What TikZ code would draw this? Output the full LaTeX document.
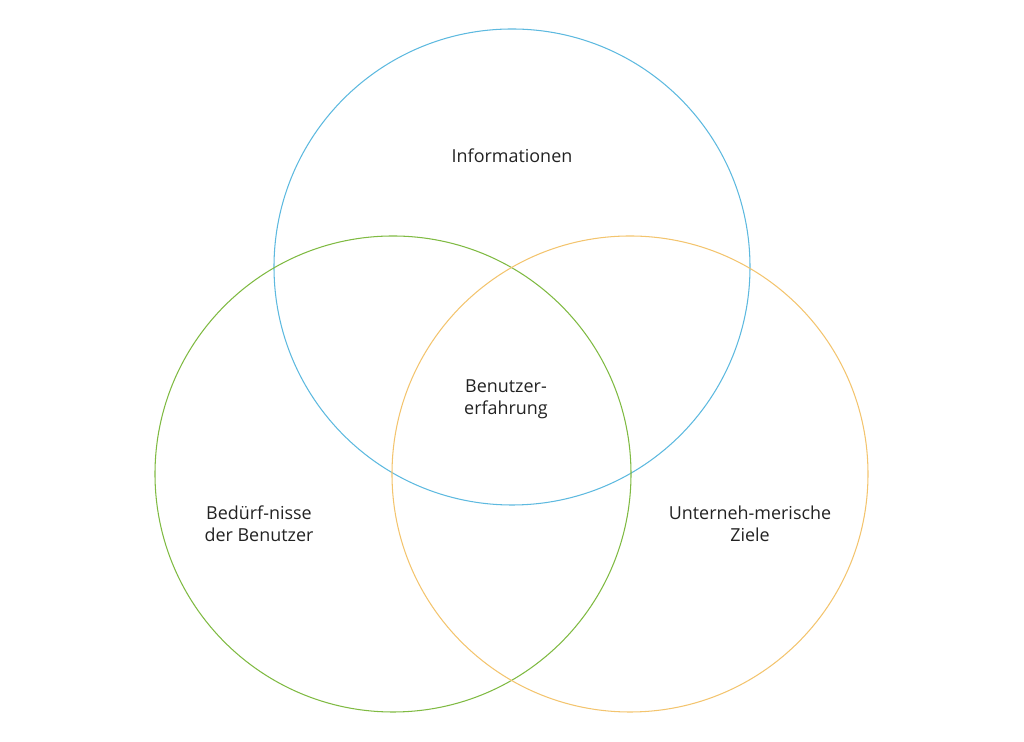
\documentclass[tikz,border=0pt]{standalone}
\usepackage{fontspec}
\setmainfont{Open Sans}
\usepackage{tikz}
\usetikzlibrary{positioning}

\definecolor{infoblue}{HTML}{5DB9DF}
\definecolor{needgreen}{HTML}{7FBA42}
\definecolor{goalorange}{HTML}{F3C46E}
\definecolor{labelgray}{HTML}{222222}

\begin{document}
\begin{tikzpicture}[
    font=\fontsize{10.2pt}{12.6pt}\selectfont,
    setcircle/.style={
        draw,
        circle,
        line width=0.6pt,
        minimum size=9.52cm,
        inner sep=0pt
    },
    setlabel/.style={
        text=labelgray,
        align=center
    }
]
    \useasboundingbox (0, 0) rectangle (20.48, 14.84);

    \node[setcircle, draw=infoblue] (info) at (10.24, 9.50) {};
    \node[setcircle, draw=needgreen] (needs) at (7.86, 5.36) {};
    \node[setcircle, draw=goalorange] (goals) at (12.60, 5.36) {};

    \node[setlabel] (infolabel) at (10.24, 11.72) {Informationen};
    \node[setlabel] (uxlabel) at (10.12, 6.86) {Benutzer-\\erfahrung};
    \node[setlabel] (needslabel) at (5.18, 4.36) {Bedürf-nisse\\der Benutzer};
    \node[setlabel] (goalslabel) at (15.00, 4.36) {Unterneh-merische\\Ziele};
\end{tikzpicture}
\end{document}
